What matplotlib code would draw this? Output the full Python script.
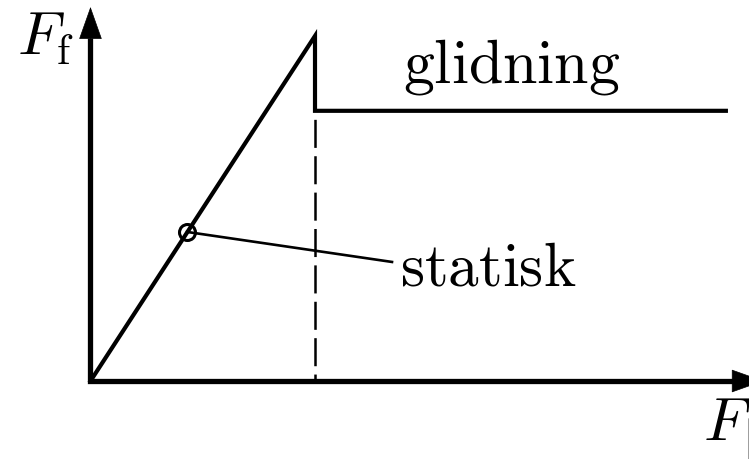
import matplotlib
matplotlib.use("Agg")
import matplotlib.pyplot as plt

plt.rcParams['mathtext.fontset'] = 'cm'
plt.rcParams['lines.scale_dashes'] = False

# friction force vs applied force (arbitrary units, static peak = 1)
F_curve = [0.0, 1.0, 1.0, 2.83]
Ff_curve = [0.0, 1.0, 0.783, 0.783]
F_peak = 1.0
Ff_slide = 0.783
F_static_pt = 0.43
Ff_static_pt = 0.432
label_end = (1.343, 0.345)
label_static = 'statisk'
label_slide = 'glidning'

fig = plt.figure(figsize=(7.49, 4.60), dpi=100)
ax = fig.add_axes([0, 0, 1, 1])
ax.set_xlim(-0.403, 2.933)
ax.set_ylim(-0.226, 1.107)
ax.axis('off')

# axes with arrow heads
x_tip, y_tip = 2.999, 1.084
ax.plot([0, 0, x_tip - 0.07], [y_tip - 0.09, 0, 0], color='k', lw=3.8,
        solid_joinstyle='miter', solid_capstyle='butt')
head = dict(arrowstyle='-|>,head_length=22,head_width=7.8', mutation_scale=1,
            color='k', lw=0.5, shrinkA=0, shrinkB=0)
ax.annotate('', xy=(0, y_tip), xytext=(0, y_tip - 0.12), arrowprops=head,
            annotation_clip=False)
ax.annotate('', xy=(x_tip, 0), xytext=(x_tip - 0.12, 0), arrowprops=head,
            annotation_clip=False)

# friction curve
ax.plot(F_curve, Ff_curve, color='k', lw=3.0, solid_joinstyle='miter')

# dashed guide under the drop
ax.plot([F_peak, F_peak], [Ff_slide, 0], color='k', lw=1.8,
        linestyle=(20.2, (20.2, 6.0)))

# static point and leader line
ax.plot([F_static_pt, label_end[0]], [Ff_static_pt, label_end[1]], color='k', lw=1.9)
ax.plot([F_static_pt], [Ff_static_pt], marker='o', ms=11.5, mew=2.2,
        mfc='none', mec='k')

ax.text(1.392, 0.867, r'$\mathrm{%s}$' % label_slide, fontsize=44.5,
        ha='left', va='baseline')
ax.text(1.379, 0.281, r'$\mathrm{%s}$' % label_static, fontsize=44,
        ha='left', va='baseline')
ax.text(-0.075, 0.948, r'$F_\mathrm{f}$', fontsize=44, ha='right', va='baseline')
ax.text(2.728, -0.168, r'$F_\|$', fontsize=44, ha='left', va='baseline')

fig.savefig('out.png', dpi=100)
